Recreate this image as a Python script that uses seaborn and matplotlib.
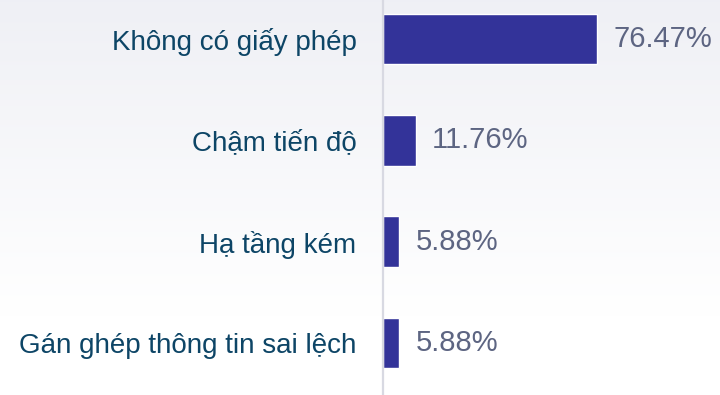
import numpy as np
import pandas as pd
import matplotlib
matplotlib.use("Agg")
import matplotlib.pyplot as plt
import seaborn as sns

categories = ["Không có giấy phép", "Chậm tiến độ", "Hạ tầng kém", "Gán ghép thông tin sai lệch"]
percent = [76.47, 11.76, 5.88, 5.88]
value_labels = ["76.47%", "11.76%", "5.88%", "5.88%"]

df = pd.DataFrame({"category": categories, "percent": percent})

sns.set_theme(style="white")
plt.rcParams["font.family"] = ["Liberation Sans", "DejaVu Sans"]

fig = plt.figure(figsize=(7.2, 3.95), dpi=100)

# soft vertical background gradient (light grey-blue at top fading to white)
bg = fig.add_axes([0, 0, 1, 1], zorder=0)
top = np.array([0.937, 0.941, 0.961])
grad = np.linspace(0, 1, 256)[:, None]
fade = np.clip(grad / 0.80, 0, 1)
img = top[None, None, :] * (1 - fade[..., None]) + np.ones(3)[None, None, :] * fade[..., None]
img = np.repeat(img, 2, axis=1)
bg.imshow(img, aspect="auto", extent=[0, 1, 0, 1], origin="upper")
bg.set_axis_off()

ax = fig.add_axes([383 / 720, 1.5 / 395, 280 / 720, 405 / 395], zorder=1)
ax.patch.set_alpha(0)
sns.barplot(data=df, x="percent", y="category", orient="h", color="#333399",
            saturation=1, width=0.5, ax=ax)
ax.set_xlim(0, 100)
ax.set_ylim(3.5, -0.5)
ax.set_xlabel("")
ax.set_ylabel("")
ax.set_xticks([])
for s in ["top", "right", "bottom"]:
    ax.spines[s].set_visible(False)
ax.spines["left"].set_color("#d8d9e2")
ax.spines["left"].set_linewidth(1.6)
ax.tick_params(axis="y", length=0, pad=19, labelsize=20, labelcolor="#0d4566")

for i, (v, lab) in enumerate(zip(percent, value_labels)):
    ax.annotate(lab, xy=(v, i), xytext=(16, 0), textcoords="offset pixels",
                va="center", ha="left", fontsize=21, color="#5d6582")

fig.savefig("out.png", dpi=100)
